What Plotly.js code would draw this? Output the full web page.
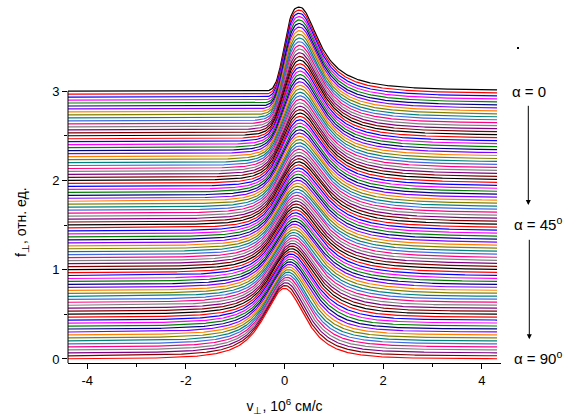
<!DOCTYPE html>
<html><head><meta charset="utf-8">
<script src="https://cdn.plot.ly/plotly-3.0.1.min.js"></script>
<style>body{margin:0;background:#fff}</style>
</head><body><div id="chart" style="width:576px;height:416px"></div>
<script>
// ---- data ----
// projection angles (deg): curve at alpha is drawn with baseline offset 3*(90-alpha)/90
const alphaDeg = Array.from({length: 91}, (_, i) => i);       // 0 .. 90
const offsetTop = 3;                                           // baseline of alpha = 0
// velocity grid, 10^6 cm/s
const vMin = -4.39, vMax = 4.31, vStep = 0.02;
// alpha = 0 profile: peak height, position, left edge scale, right half-width
const top0 = {amp: 0.94, pos: 0.31, left: 0.37, right: 0.47};
// alpha = 90 profile: peak height, width
const bot90 = {amp: 0.79, width: 0.65};
const xTicks = [-4, -2, 0, 2, 4];
const yTicks = [0, 1, 2, 3];
const palette = ['#000000','#FF0000','#0000FF','#FF00FF','#008000','#000080','#8000FF',
                 '#FF8000','#808000','#008080','#4169E1','#FF0080','#808080','#800080','#800000'];

// ---- profiles ----
function h(v) { // alpha = 0 profile
  const d = v - top0.pos;
  if (d < 0) { const q = -d / top0.left; return top0.amp * Math.exp(-q*q*q); }
  const q = d / top0.right; return top0.amp / (1 + q*q);
}
function k(v) { // alpha = 90 profile
  const q = v / bot90.width; const r = 1 + q*q; return bot90.amp / (r * Math.sqrt(r));
}
const vGrid = [];
for (let v = vMin; v <= vMax + 1e-9; v += vStep) vGrid.push(+v.toFixed(4));

const dt = 0.02, tMax = 6;
let Ah = 0, Ak = 0;
for (let t = -tMax; t <= tMax; t += dt) { Ah += h(t) * dt; Ak += k(t) * dt; }

function profile(aDeg) {
  const a = aDeg * Math.PI / 180, c = Math.cos(a), s = Math.sin(a);
  const norm = c*c / Ak + s*s / Ah;
  return vGrid.map(u => {
    let sum = 0;
    for (let t = -tMax; t <= tMax; t += dt) {
      const vx = u*c - t*s;
      if (vx - top0.pos < -1.2) continue;
      sum += h(vx) * k(u*s + t*c);
    }
    return sum * dt * norm;
  });
}

const traces = alphaDeg.map((aDeg, i) => {
  const off = offsetTop * (90 - aDeg) / 90;
  const f = profile(aDeg);
  return {
    x: vGrid, y: f.map(val => val + off), type: 'scatter', mode: 'lines',
    line: {color: aDeg === 90 ? '#FF0000' : palette[i % palette.length], width: 1.2},
    hoverinfo: 'skip', showlegend: false
  };
});

const L = 68, R = 75, T = 2, B = 53, W = 576, H = 416;
const pw = W - L - R, ph = H - T - B;
const px2x = p => (p - L) / pw, py2y = p => (H - B - p) / ph;

const layout = {
  width: W, height: H,
  margin: {l: L, r: R, t: T, b: B, pad: 0},
  paper_bgcolor: '#fff', plot_bgcolor: '#fff',
  font: {family: 'Liberation Sans, Arial, sans-serif', size: 13, color: '#000'},
  xaxis: {
    range: [-4.39, 4.39], tickmode: 'array', tickvals: xTicks, ticktext: xTicks.map(String),
    ticks: 'outside', ticklen: 5, tickwidth: 1, tickcolor: '#000',
    showline: true, linecolor: '#000', linewidth: 1, showgrid: false, zeroline: false,
    minor: {tickvals: [-3, -1, 1, 3], ticks: 'outside', ticklen: 3, tickcolor: '#000', tickwidth: 1},
    title: {text: 'v<sub>⊥</sub>, 10<sup>6</sup> см/с', font: {size: 14}, standoff: 14}
  },
  yaxis: {
    range: [-0.045, 3.998], tickmode: 'array', tickvals: yTicks, ticktext: yTicks.map(String),
    ticks: 'outside', ticklen: 5, tickwidth: 1, tickcolor: '#000',
    showline: false, showgrid: false, zeroline: false,
    minor: {tickvals: [0.5, 1.5, 2.5], ticks: 'outside', ticklen: 3, tickcolor: '#000', tickwidth: 1}
  },
  shapes: [
    {type: 'line', xref: 'paper', yref: 'y', x0: 0, x1: 0, y0: -0.045, y1: 3,
     line: {color: '#000', width: 1}},
    {type: 'rect', xref: 'paper', yref: 'paper', x0: px2x(517), x1: px2x(519),
     y0: py2y(49), y1: py2y(47), fillcolor: '#000', line: {width: 0}}
  ],
  annotations: [
    {xref: 'paper', yref: 'paper', x: px2x(22), y: py2y(222), xanchor: 'center', yanchor: 'middle',
     text: 'f<sub>⊥</sub>, отн. ед.', textangle: -90, showarrow: false, font: {size: 14}},
    {xref: 'paper', yref: 'y', x: px2x(510), y: 3.0, xanchor: 'left', yanchor: 'middle',
     text: 'α = 0', showarrow: false, font: {size: 15}},
    {xref: 'paper', yref: 'y', x: px2x(512), y: 1.516, xanchor: 'left', yanchor: 'middle',
     text: 'α = 45<sup>o</sup>', showarrow: false, font: {size: 15}},
    {xref: 'paper', yref: 'y', x: px2x(512), y: 0.02, xanchor: 'left', yanchor: 'middle',
     text: 'α = 90<sup>o</sup>', showarrow: false, font: {size: 15}},
    {xref: 'paper', yref: 'paper', x: px2x(528.3), y: py2y(205), ax: 0, ay: -100.7,
     text: '', showarrow: true, arrowhead: 2, arrowsize: 1, arrowwidth: 1, arrowcolor: '#000'},
    {xref: 'paper', yref: 'paper', x: px2x(529.3), y: py2y(339.3), ax: 0, ay: -101,
     text: '', showarrow: true, arrowhead: 2, arrowsize: 1, arrowwidth: 1, arrowcolor: '#000'}
  ]
};

Plotly.newPlot('chart', traces, layout, {displayModeBar: false, staticPlot: true});
</script>
</body></html>
